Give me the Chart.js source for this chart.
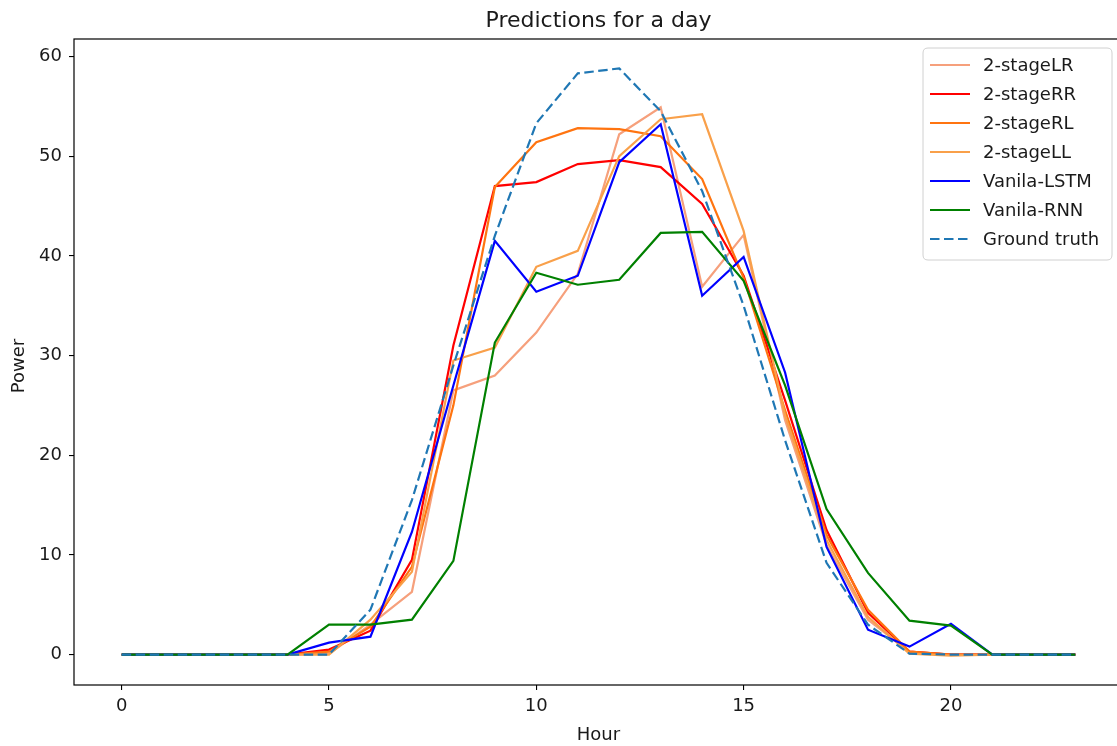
<!DOCTYPE html>
<html><head><meta charset="utf-8">
<script src="https://cdn.jsdelivr.net/npm/chart.js@4"></script>
<style>html,body{margin:0;padding:0;overflow:hidden;background:#fff;}#wrap{width:1117px;height:746px;overflow:hidden;position:relative;background:#fff}canvas{display:block}</style>
</head><body><div id="wrap"><canvas id="c" width="1130" height="746" style="width:1130px;height:746px"></canvas></div>
<script>
const hours = [0,1,2,3,4,5,6,7,8,9,10,11,12,13,14,15,16,17,18,19,20,21,22,23];
const stageLR = [0,0,0,0,0,0.1,3.0,6.3,26.5,28.0,32.3,38.2,52.2,54.9,36.9,42.1,23.5,11.0,3.5,0.3,0,0,0,0];
const stageRR = [0,0,0,0,0,0.5,2.4,9.5,31.0,47.0,47.4,49.2,49.6,48.9,45.2,38.0,25.5,12.5,4.2,0.3,0,0,0,0];
const stageRL = [0,0,0,0,0,0.3,2.8,8.8,25.0,46.9,51.4,52.8,52.7,52.0,47.7,37.8,24.5,12.0,4.5,0.3,0,0,0,0];
const stageLL = [0,0,0,0,0,0,3.5,8.3,29.5,30.8,38.9,40.5,50.0,53.7,54.2,42.5,24.0,11.5,3.8,0.1,-0.1,0,0,0];
const vanilaLSTM = [0,0,0,0,0,1.2,1.8,12.3,27.0,41.5,36.4,38.0,49.4,53.2,36.0,39.9,28.3,10.8,2.5,0.8,3.1,0,0,0];
const vanilaRNN = [0,0,0,0,0,3.0,3.0,3.5,9.4,31.3,38.3,37.1,37.6,42.3,42.4,37.5,27.0,14.6,8.2,3.4,2.9,0,0,0];
const groundTruth = [0,0,0,0,0,0,4.5,15.5,29.0,42.0,53.3,58.3,58.8,54.5,46.5,35.0,21.5,9.2,3.0,0.1,0,0,0,0];
const xTicks = [0,5,10,15,20];
const yTicks = [0,10,20,30,40,50,60];
const seriesNames = ['2-stageLR','2-stageRR','2-stageRL','2-stageLL','Vanila-LSTM','Vanila-RNN','Ground truth'];
const seriesData = [stageLR, stageRR, stageRL, stageLL, vanilaLSTM, vanilaRNN, groundTruth];
const seriesColors = ['#f6a07c','#ff0000','#ff7410','#f9a04a','#0000ff','#008000','#1f77b4'];
const seriesDash = [[],[],[],[],[],[],[9.5,4.5]];

const FONT = 'DejaVu Sans';
const datasets = seriesData.map((vals,i)=>({
  label: seriesNames[i],
  data: hours.map((h,j)=>({x:h,y:vals[j]})),
  borderColor: seriesColors[i],
  backgroundColor: seriesColors[i],
  borderWidth: 2.2,
  borderDash: seriesDash[i],
  pointRadius: 0,
  tension: 0,
  fill: false,
  order: seriesData.length - i
}));

const decor = {
  id:'decor',
  afterDatasetsDraw(chart){
    const ctx = chart.ctx, a = chart.chartArea;
    ctx.save();
    ctx.strokeStyle = '#000'; ctx.lineWidth = 1.2;
    ctx.strokeRect(a.left, a.top, a.right-a.left, a.bottom-a.top);
    ctx.fillStyle = '#1a1a1a';
    ctx.font = '22px "'+FONT+'"';
    ctx.textAlign = 'center'; ctx.textBaseline = 'alphabetic';
    ctx.fillText('Predictions for a day', (a.left+a.right)/2, 27);
    ctx.font = '18px "'+FONT+'"';
    ctx.fillText('Hour', (a.left+a.right)/2, 740);
    ctx.save();
    ctx.translate(19, (a.top+a.bottom)/2 + 4);
    ctx.rotate(-Math.PI/2);
    ctx.textBaseline = 'middle';
    ctx.fillText('Power', 0, 0);
    ctx.restore();
    // legend
    const bx=923, by=48, bw=189, bh=212, r=5;
    ctx.beginPath();
    ctx.moveTo(bx+r,by); ctx.lineTo(bx+bw-r,by); ctx.quadraticCurveTo(bx+bw,by,bx+bw,by+r);
    ctx.lineTo(bx+bw,by+bh-r); ctx.quadraticCurveTo(bx+bw,by+bh,bx+bw-r,by+bh);
    ctx.lineTo(bx+r,by+bh); ctx.quadraticCurveTo(bx,by+bh,bx,by+bh-r);
    ctx.lineTo(bx,by+r); ctx.quadraticCurveTo(bx,by,bx+r,by); ctx.closePath();
    ctx.fillStyle = 'rgba(255,255,255,0.85)'; ctx.fill();
    ctx.strokeStyle = '#d0d0d0'; ctx.lineWidth = 1; ctx.stroke();
    chart.data.datasets.forEach((ds,i)=>{
      const y = 65 + 29*i;
      ctx.beginPath();
      ctx.setLineDash(ds.borderDash||[]);
      ctx.strokeStyle = ds.borderColor; ctx.lineWidth = 2.2;
      ctx.moveTo(930,y); ctx.lineTo(970,y); ctx.stroke();
      ctx.setLineDash([]);
      ctx.fillStyle = '#1a1a1a'; ctx.textAlign='left'; ctx.textBaseline='middle';
      ctx.font = '18px "'+FONT+'"';
      ctx.fillText(ds.label, 983, y+1);
    });
    ctx.restore();
  }
};

new Chart(document.getElementById('c'), {
  type:'line',
  data:{datasets},
  plugins:[decor],
  options:{
    responsive:false, devicePixelRatio:1, animation:false,
    layout:{padding:{top:39,right:7,left:0,bottom:0}},
    plugins:{legend:{display:false}, title:{display:false}, tooltip:{enabled:false}},
    scales:{
      x:{type:'linear', min:-1.15, max:24.15,
        afterBuildTicks:s=>{s.ticks = xTicks.map(v=>({value:v}));},
        afterFit:s=>{s.height = 746-685;},
        grid:{display:true, drawOnChartArea:false, drawTicks:true, tickLength:5, color:'#000', lineWidth:1.1},
        border:{display:false},
        ticks:{font:{family:FONT,size:18}, color:'#1a1a1a', padding:6, maxRotation:0, autoSkip:false}},
      y:{type:'linear', min:-3.05, max:61.75,
        afterBuildTicks:s=>{s.ticks = yTicks.map(v=>({value:v}));},
        afterFit:s=>{s.width = 74;},
        grid:{display:true, drawOnChartArea:false, drawTicks:true, tickLength:5, color:'#000', lineWidth:1.1},
        border:{display:false},
        ticks:{font:{family:FONT,size:18}, color:'#1a1a1a', padding:7, autoSkip:false}}
    }
  }
});
</script></body></html>
